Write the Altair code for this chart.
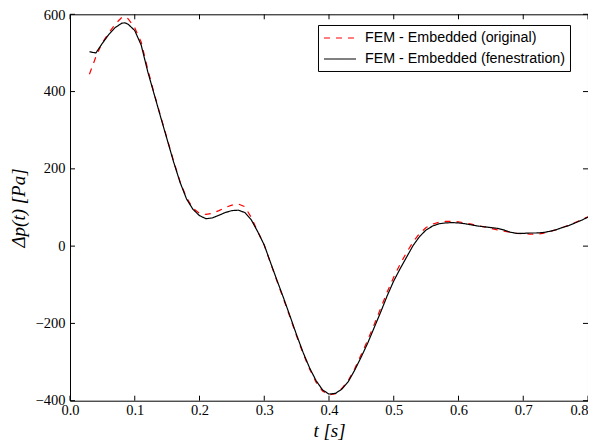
import altair as alt
import pandas as pd

series_names = ["FEM - Embedded (original)", "FEM - Embedded (fenestration)"]

t_orig = [0.03, 0.04, 0.05, 0.06, 0.07, 0.08, 0.085, 0.09, 0.10, 0.11, 0.12, 0.13, 0.14,
          0.15, 0.16, 0.17, 0.18, 0.19, 0.20, 0.21, 0.22, 0.23, 0.24, 0.25, 0.26, 0.27,
          0.28, 0.29, 0.30, 0.31, 0.32, 0.33, 0.34, 0.35, 0.36, 0.37, 0.38, 0.39, 0.40,
          0.41, 0.42, 0.43, 0.44, 0.45, 0.46, 0.47, 0.48, 0.49, 0.50, 0.51, 0.52, 0.53,
          0.54, 0.55, 0.56, 0.57, 0.58, 0.59, 0.60, 0.61, 0.62, 0.63, 0.64, 0.65, 0.66,
          0.67, 0.68, 0.69, 0.70, 0.71, 0.72, 0.73, 0.74, 0.75, 0.76, 0.77, 0.78, 0.79, 0.80]
p_orig = [445, 490, 527, 552, 575, 592, 593, 588, 565, 528, 458, 395, 336,
          278, 220, 167, 125, 98, 85, 82, 85, 92, 100, 106, 109, 102,
          74, 38, 2, -45, -92, -138, -185, -233, -278, -318, -352, -375, -385,
          -382, -368, -347, -316, -280, -242, -202, -160, -118, -80, -46, -16, 11,
          33, 48, 57, 62, 64, 64, 63, 60, 57, 53, 50, 46, 42,
          39, 36, 33, 32, 31, 31, 33, 37, 42, 48, 54, 61, 68, 76]

t_fen = [0.03, 0.04, 0.05, 0.06, 0.07, 0.08, 0.085, 0.09, 0.10, 0.11, 0.12, 0.13, 0.14,
         0.15, 0.16, 0.17, 0.18, 0.19, 0.20, 0.21, 0.22, 0.23, 0.24, 0.25, 0.26, 0.27,
         0.28, 0.29, 0.30, 0.31, 0.32, 0.33, 0.34, 0.35, 0.36, 0.37, 0.38, 0.39, 0.40,
         0.41, 0.42, 0.43, 0.44, 0.45, 0.46, 0.47, 0.48, 0.49, 0.50, 0.51, 0.52, 0.53,
         0.54, 0.55, 0.56, 0.57, 0.58, 0.59, 0.60, 0.61, 0.62, 0.63, 0.64, 0.65, 0.66,
         0.67, 0.68, 0.69, 0.70, 0.71, 0.72, 0.73, 0.74, 0.75, 0.76, 0.77, 0.78, 0.79, 0.80]
p_fen = [503, 500, 525, 548, 566, 577, 578, 574, 558, 520, 452, 393, 334,
         276, 218, 165, 122, 95, 79, 71, 73, 80, 87, 92, 93, 87,
         68, 37, 3, -44, -90, -135, -182, -230, -275, -315, -348, -372, -383,
         -381, -370, -350, -320, -286, -250, -210, -170, -128, -90, -58, -28, 2,
         25, 42, 52, 58, 60, 61, 60, 58, 55, 52, 50, 48, 46,
         42, 36, 33, 33, 34, 34, 35, 38, 42, 48, 53, 60, 67, 75]

x_ticks = [0.0, 0.1, 0.2, 0.3, 0.4, 0.5, 0.6, 0.7, 0.8]
y_ticks = [-400, -200, 0, 200, 400, 600]

df = pd.concat([
    pd.DataFrame({"t": t_orig, "p": p_orig, "series": series_names[0]}),
    pd.DataFrame({"t": t_fen, "p": p_fen, "series": series_names[1]}),
])

W, H = 518, 386.4
TICK = 5

x_scale = alt.Scale(domain=[0, 0.8], nice=False, zero=False)
y_scale = alt.Scale(domain=[-400, 600], nice=False, zero=False)
x_axis = alt.Axis(values=x_ticks, format=".1f", title="t [s]",
                  labelPadding=3, titlePadding=4, labelFlush=False,
                  labelAlign={"condition": {"test": "datum.value >= 0.79", "value": "right"},
                              "value": "center"})
y_axis = alt.Axis(values=y_ticks, format="d", title="Δp(t) [Pa]",
                  labelPadding=5, titlePadding=7, labelFlush=False,
                  labelOffset={"condition": {"test": "datum.value >= 599", "value": 1.5},
                               "value": 0})

legend_kw = dict(
    title=None, orient="none", legendX=248, legendY=10.7,
    padding=4, strokeColor="black", fillColor="white", cornerRadius=0,
    symbolType="M-2,0H2", symbolSize=256, symbolStrokeWidth=1.2, symbolOffset=9,
    labelFont="Liberation Sans", labelFontSize=14.3, labelColor="black",
    labelOffset=16, rowPadding=4, labelLimit=400,
)

lines = alt.Chart(df).mark_line(strokeWidth=1.2).encode(
    x=alt.X("t:Q", scale=x_scale, axis=x_axis),
    y=alt.Y("p:Q", scale=y_scale, axis=y_axis),
    color=alt.Color("series:N",
                    scale=alt.Scale(domain=series_names, range=["#ff0000", "#000000"]),
                    legend=alt.Legend(**legend_kw)),
    strokeDash=alt.StrokeDash("series:N",
                              scale=alt.Scale(domain=series_names, range=[[6, 6], [1, 0]]),
                              legend=alt.Legend(**legend_kw)),
)

xt = alt.Chart(pd.DataFrame({"t": x_ticks}))
yt = alt.Chart(pd.DataFrame({"p": y_ticks}))
xs = alt.X("t:Q", scale=x_scale, axis=x_axis)
ys = alt.Y("p:Q", scale=y_scale, axis=y_axis)

tick_bottom = xt.mark_rule(color="black", strokeWidth=1).encode(
    x=xs, y=alt.value(H), y2=alt.value(H - TICK))
tick_top = xt.mark_rule(color="black", strokeWidth=1).encode(
    x=xs, y=alt.value(0), y2=alt.value(TICK))
tick_left = yt.mark_rule(color="black", strokeWidth=1).encode(
    y=ys, x=alt.value(0), x2=alt.value(TICK))
tick_right = yt.mark_rule(color="black", strokeWidth=1).encode(
    y=ys, x=alt.value(W), x2=alt.value(W - TICK))

chart = alt.layer(tick_bottom, tick_top, tick_left, tick_right, lines).properties(
    width=W, height=H,
    background="white",
    autosize=alt.AutoSizeParams(type="none"),
    padding={"left": 62, "top": 6.3, "right": 0, "bottom": 39},
).configure_view(
    stroke="black", strokeWidth=1
).configure_axis(
    grid=False, domain=False, ticks=False, tickSize=0,
    labelFont="Liberation Serif", labelFontSize=14.5, labelColor="black",
    titleFont="Liberation Serif", titleFontSize=19, titleFontStyle="italic",
    titleFontWeight="normal", titleColor="black",
)

chart.save("out.html", embed_options={"renderer": "svg", "actions": False})
